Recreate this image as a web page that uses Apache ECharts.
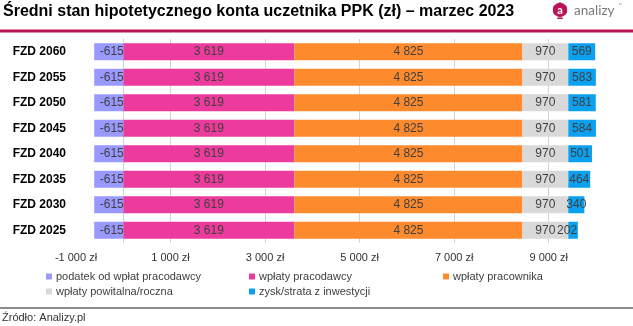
<!DOCTYPE html>
<html>
<head>
<meta charset="utf-8">
<script src="https://cdn.jsdelivr.net/npm/echarts@6/dist/echarts.min.js"></script>
<style>
html,body{margin:0;padding:0;background:#fff;}
#chart{width:633px;height:326px;}
</style>
</head>
<body>
<div id="chart"></div>
<script>
// ---- data ----
const categories = ['FZD 2060','FZD 2055','FZD 2050','FZD 2045','FZD 2040','FZD 2035','FZD 2030','FZD 2025'];
const seriesNames = ['podatek od wpłat pracodawcy','wpłaty pracodawcy','wpłaty pracownika','wpłaty powitalna/roczna','zysk/strata z inwestycji'];
const podatek = [-615,-615,-615,-615,-615,-615,-615,-615];
const wplatyPracodawcy = [3619,3619,3619,3619,3619,3619,3619,3619];
const wplatyPracownika = [4825,4825,4825,4825,4825,4825,4825,4825];
const wplatyPowitalna = [970,970,970,970,970,970,970,970];
const zysk = [569,583,581,584,501,464,340,202];
const xTickMin = -1000, xTickMax = 10000, xTickStep = 2000;
const titleText = 'Średni stan hipotetycznego konta uczetnika PPK (zł) – marzec 2023';
const sourceText = 'Źródło: Analizy.pl';

const colors = ['#9999FF','#EC3B9C','#FD8A2C','#D9D9D9','#0BA0F0'];
const seriesData = [podatek, wplatyPracodawcy, wplatyPracownika, wplatyPowitalna, zysk];

function fmt(v){
  const s = Math.abs(v).toString().replace(/\B(?=(\d{3})+(?!\d))/g,' ');
  return (v<0?'-':'') + s;
}

const chart = echarts.init(document.getElementById('chart'), null, {renderer:'canvas'});

const series = seriesData.map((arr,i)=>{
  const s = {
    name: seriesNames[i],
    type: 'bar',
    stack: 'total',
    barWidth: 17,
    itemStyle: {color: colors[i]},
    label: {
      show: true,
      position: 'inside',
      color: '#404040',
      fontSize: 12,
      fontFamily: 'Liberation Sans, Arial, sans-serif',
      formatter: p => fmt(p.value)
    },
    data: arr.map(v => v)
  };
  if (i === 0) {
    s.z = 3;
    s.label.offset = [3,0];
    s.markLine = {
      silent: true, symbol: 'none', label: {show:false}, z: 1,
      lineStyle: {color:'#D4D4D4', type:'solid', width:1},
      data: [{xAxis: 0}]
    };
  }
  if (i === 4) {
    s.data = arr.map(v => v < 250 ? {value: v, label: {offset: [-6,0]}} : v);
  }
  return s;
});

const legendPos = [[46,271],[249,271],[443,271],[46,286],[249,286]];
const legends = seriesNames.map((n,i)=>({
  data: [n],
  left: legendPos[i][0],
  top: legendPos[i][1],
  padding: 0,
  itemWidth: 6,
  itemHeight: 6,
  itemGap: 0,
  icon: 'rect',
  selectedMode: false,
  textStyle: {fontSize: 11, color: '#404040', fontFamily: 'Liberation Sans, Arial, sans-serif', padding:[0,0,0,-1]}
}));

const option = {
  animation: false,
  backgroundColor: '#fff',
  textStyle: {fontFamily: 'Liberation Sans, Arial, sans-serif'},
  title: {
    text: titleText,
    left: 3,
    top: 4,
    padding: 0,
    textStyle: {fontSize: 16, fontWeight: 'bold', color: '#000', fontFamily: 'Liberation Sans, Arial, sans-serif'}
  },
  legend: legends,
  grid: {
    left: 76, right: 37, top: 39, height: 204,
    outerBoundsMode: 'none', containLabel: false
  },
  xAxis: {
    type: 'value',
    min: xTickMin, max: xTickMax, interval: xTickStep,
    axisLine: {show:false},
    axisTick: {show:false},
    splitLine: {show:true, showMinLine:false, showMaxLine:false, lineStyle:{color:'#D4D4D4', width:1}},
    axisLabel: {
      fontSize: 11, color: '#333', margin: 9,
      showMaxLabel: false,
      formatter: v => v >= xTickMax ? '' : fmt(v) + ' zł'
    }
  },
  yAxis: {
    type: 'category',
    inverse: true,
    data: categories,
    axisLine: {show:true, lineStyle:{color:'#D4D4D4', width:1}},
    axisTick: {show:false},
    axisLabel: {fontSize: 12, fontWeight: 'bold', color: '#000', margin: 10}
  },
  series: series,
  graphic: [
    {type:'rect', shape:{x:0, y:29.5, width:633, height:3}, style:{fill:'#B81458'}, silent:true},
    {type:'rect', shape:{x:0, y:307.5, width:633, height:1}, style:{fill:'#1a1a1a'}, silent:true},
    {type:'text', left: 2, top: 312, style:{text: sourceText, fontSize: 11, fill:'#333', fontFamily:'Liberation Sans, Arial, sans-serif'}, silent:true},
    // logo
    {type:'polygon', shape:{points:[[560,2.5],[566.5,6.2],[566.5,13.6],[560,17.3],[553.5,13.6],[553.5,6.2]], smooth:0.25}, style:{fill:'#B81458'}, silent:true},
    {type:'rect', shape:{x:557, y:17.5, width:6, height:1.6, r:0.8}, style:{fill:'#B81458'}, silent:true},
    {type:'text', x:560, y:10.2, style:{text:'a', fontSize:11, fontWeight:'bold', fill:'#fff', align:'center', verticalAlign:'middle', fontFamily:'Lato, Liberation Sans, sans-serif'}, silent:true},
    {type:'text', x:574, y:10.5, style:{text:'analizy', fontSize:13.5, fill:'#7a7a7a', verticalAlign:'middle', fontFamily:'Lato, Liberation Sans, sans-serif'}, silent:true},
    {type:'text', x:619, y:6, style:{text:'″', fontSize:8, fill:'#9a9a9a', verticalAlign:'middle', fontFamily:'Liberation Sans, sans-serif'}, silent:true}
  ]
};
chart.setOption(option);
</script>
</body>
</html>
